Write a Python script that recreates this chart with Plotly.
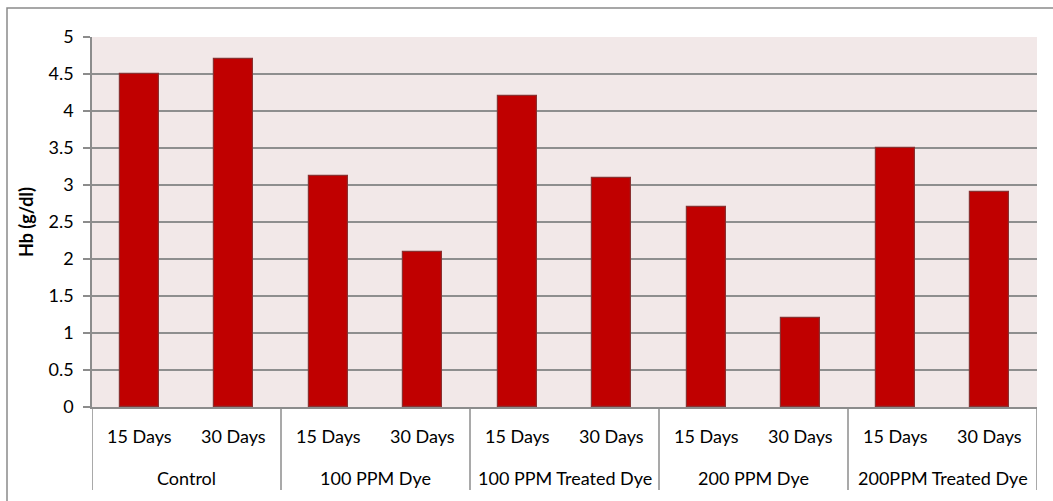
import plotly.graph_objects as go

# Hb levels by treatment group and exposure period
groups = ["Control", "100 PPM Dye", "100 PPM Treated Dye", "200 PPM Dye", "200PPM Treated Dye"]
periods = ["15 Days", "30 Days"]
hb_values = [4.5, 4.7, 3.12, 2.1, 4.2, 3.1, 2.7, 1.2, 3.5, 2.9]
y_ticks = [0, 0.5, 1, 1.5, 2, 2.5, 3, 3.5, 4, 4.5, 5]

FONT = "Lato"
FS = 18
n = len(hb_values)
xpos = list(range(n))
period_labels = [periods[i % 2] for i in range(n)]

fig = go.Figure()
fig.add_trace(go.Bar(
    x=xpos, y=hb_values, width=0.41,
    marker=dict(color="#c00000", line=dict(color="#8a3030", width=1.2)),
    hoverinfo="y",
))

fig.update_layout(
    width=1053, height=501,
    margin=dict(l=92, r=16, t=37, b=94),
    paper_bgcolor="white",
    plot_bgcolor="#f2e8e8",
    showlegend=False,
    font=dict(family=FONT, size=FS, color="#000"),
    bargap=0,
)

fig.update_xaxes(
    range=[-0.5, n - 0.5], showticklabels=False, showgrid=False,
    zeroline=False, showline=True, linecolor="#8c8c8c", linewidth=1.5,
    ticks="",
)
fig.update_yaxes(
    range=[0, 5], tickvals=y_ticks, ticktext=[f"{v:g}" for v in y_ticks],
    showgrid=True, gridcolor="#8e8e8e", gridwidth=1.5,
    zeroline=False, showline=True, linecolor="#8c8c8c", linewidth=1.5,
    ticks="outside", ticklen=7, tickcolor="#8c8c8c", tickwidth=1.5,
    ticklabelstandoff=6,
    tickfont=dict(family=FONT, size=FS),
    title=dict(text="<b>Hb (g/dl)</b>", font=dict(family=FONT, size=18), standoff=10),
)

# Inner category labels (period)
for i, lab in enumerate(period_labels):
    fig.add_annotation(x=i, y=-29 / 370, xref="x", yref="paper", text=lab,
                       showarrow=False, yanchor="middle", xanchor="center",
                       font=dict(family=FONT, size=FS))

# Outer category labels (group) and separators
for g, name in enumerate(groups):
    fig.add_annotation(x=2 * g + 0.5, y=-71 / 370, xref="x", yref="paper", text=name,
                       showarrow=False, yanchor="middle", xanchor="center",
                       font=dict(family=FONT, size=FS))
for b in range(len(groups) + 1):
    xb = 2 * b - 0.5
    fig.add_shape(type="line", xref="x", yref="paper", x0=xb, x1=xb,
                  y0=0, y1=-83 / 370, line=dict(color="#8c8c8c", width=1.5))

# Chart frame
fig.add_shape(type="rect", xref="paper", yref="paper",
              x0=(7 - 92) / 945, x1=1.2, y0=-0.5, y1=(407 - 8) / 370,
              line=dict(color="#8a8a8a", width=1.5), fillcolor="rgba(0,0,0,0)",
              layer="below")

fig.write_html("out.html")
